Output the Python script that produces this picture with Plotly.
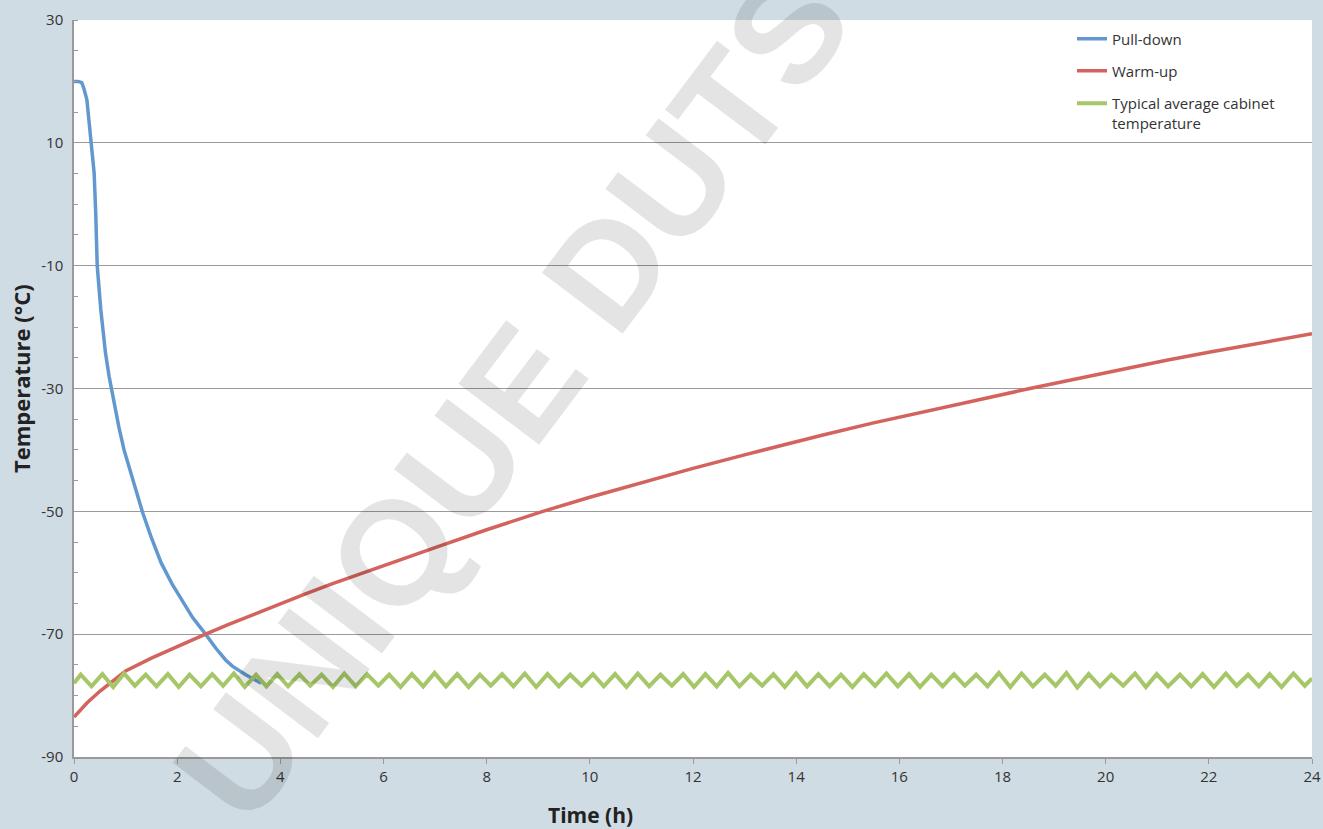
import plotly.graph_objects as go

# ---- data ----
pull_time = [0, 0.08, 0.15, 0.19, 0.25, 0.29, 0.34, 0.39, 0.42, 0.45, 0.52, 0.61, 0.68, 0.78,
             0.87, 0.97, 1.13, 1.33, 1.5, 1.69, 1.9, 2.1, 2.3, 2.55, 2.75, 2.94, 3.07, 3.33,
             3.52, 3.63]
pull_temp = [20.0, 20.0, 19.8, 18.9, 17.0, 13.2, 10.0, 5.1, -1.2, -10.0, -17.2, -24.2, -28.0,
             -32.5, -36.3, -40.0, -44.4, -50.2, -54.3, -58.4, -61.8, -64.6, -67.3, -70.0,
             -72.3, -74.2, -75.2, -76.6, -77.5, -78.0]

warm_time = [0, 0.25, 0.5, 0.75, 1.0, 1.5, 2.0, 2.55, 3.0, 3.5, 4.0, 4.5, 5.0, 5.5, 6.0,
             7.0, 8.0, 9.09, 10.0, 11.0, 12.0, 13.0, 13.68, 14.5, 15.5, 16.39, 17.5, 18.53,
             19.5, 20.5, 21.18, 22.0, 23.0, 24.0]
warm_temp = [-83.5, -81.2, -79.3, -77.6, -76.0, -73.9, -72.0, -70.0, -68.4, -66.7, -65.0,
             -63.4, -61.8, -60.3, -58.8, -55.9, -53.0, -50.0, -47.7, -45.3, -43.0, -40.8,
             -39.3, -37.6, -35.6, -33.9, -31.9, -30.0, -28.3, -26.6, -25.4, -24.1, -22.6,
             -21.1]

cab_start = (0.0, -78.0)
cab_end = (24.0, -77.2)
cab_peak_time = [0.13, 0.55, 0.97, 1.39, 1.82, 2.24, 2.68, 3.10, 3.53, 3.94, 4.37,
                 4.80, 5.24, 5.68, 6.11, 6.55, 6.99, 7.43, 7.87, 8.30, 8.74, 9.18,
                 9.62, 10.06, 10.49, 10.93, 11.37, 11.81, 12.24, 12.68, 13.12, 13.56,
                 14.00, 14.43, 14.87, 15.31, 15.75, 16.19, 16.62, 17.06, 17.49, 17.93,
                 18.37, 18.82, 19.24, 19.67, 20.11, 20.57, 20.99, 21.44, 21.88, 22.33,
                 22.76, 23.18, 23.64]
cab_trough_time = [0.34, 0.76, 1.18, 1.60, 2.03, 2.46, 2.89, 3.31, 3.73, 4.15, 4.58,
                   5.02, 5.46, 5.90, 6.33, 6.77, 7.21, 7.65, 8.08, 8.52, 8.96, 9.40,
                   9.84, 10.27, 10.71, 11.15, 11.59, 12.02, 12.46, 12.90, 13.34, 13.78,
                   14.21, 14.65, 15.09, 15.53, 15.97, 16.40, 16.84, 17.27, 17.71, 18.15,
                   18.59, 19.03, 19.45, 19.89, 20.34, 20.78, 21.21, 21.66, 22.10, 22.54,
                   22.97, 23.41, 23.86]
cab_peak_temp = [-76.6, -76.5, -76.4, -76.6, -76.5, -76.6, -76.5, -76.4, -76.6, -76.5, -76.5,
                 -76.6, -76.4, -76.5, -76.6, -76.5, -76.3, -76.5, -76.6, -76.5, -76.4, -76.5,
                 -76.6, -76.5, -76.5, -76.4, -76.6, -76.5, -76.5, -76.3, -76.6, -76.5, -76.4,
                 -76.5, -76.6, -76.5, -76.4, -76.5, -76.6, -76.5, -76.6, -76.3, -76.4, -76.6,
                 -76.3, -76.5, -76.6, -76.4, -76.5, -76.6, -76.5, -76.4, -76.6, -76.5, -76.4]
cab_trough_temp = [-78.5, -78.6, -78.4, -78.5, -78.6, -78.5, -78.4, -78.6, -78.5, -78.5, -78.4,
                   -78.6, -78.5, -78.4, -78.6, -78.5, -78.5, -78.6, -78.4, -78.5, -78.6, -78.5,
                   -78.4, -78.5, -78.6, -78.5, -78.4, -78.6, -78.5, -78.5, -78.4, -78.6, -78.5,
                   -78.5, -78.6, -78.4, -78.5, -78.6, -78.5, -78.4, -78.5, -78.6, -78.5, -78.4,
                   -78.7, -78.5, -78.4, -78.6, -78.5, -78.5, -78.6, -78.4, -78.5, -78.6, -78.4]

x_ticks = [0, 2, 4, 6, 8, 10, 12, 14, 16, 18, 20, 22, 24]
y_ticks = [30, 10, -10, -30, -50, -70, -90]

# interleave the cabinet peaks and troughs
cab_time = [cab_start[0]]
cab_temp = [cab_start[1]]
for pt, pv, tt, tv in zip(cab_peak_time, cab_peak_temp, cab_trough_time, cab_trough_temp):
    cab_time += [pt, tt]
    cab_temp += [pv, tv]
cab_time.append(cab_end[0])
cab_temp.append(cab_end[1])

W, H = 1323, 829
ML, MR, MT, MB = 74, 11, 20, 72
PW, PH = W - ML - MR, H - MT - MB


def px(xp):
    return (xp - ML) / PW


def py(yp):
    return (H - MB - yp) / PH


FONT = "Open Sans"
TXT = "#333333"
GRID = "#9a9a9a"

fig = go.Figure()
fig.add_trace(go.Scatter(x=pull_time, y=pull_temp, mode="lines", name="Pull-down",
                         line=dict(color="#6198cf", width=3.5), legend="legend"))
fig.add_trace(go.Scatter(x=warm_time, y=warm_temp, mode="lines", name="Warm-up",
                         line=dict(color="#d3635c", width=3.5), legend="legend2"))
fig.add_trace(go.Scatter(x=cab_time, y=cab_temp, mode="lines",
                         name="Typical average cabinet<br>temperature",
                         line=dict(color="#a6c667", width=4), legend="legend3"))

leg_common = dict(font=dict(family=FONT, size=15, color=TXT), bgcolor="rgba(0,0,0,0)",
                  xanchor="left", yanchor="middle", valign="top", borderwidth=0)

fig.update_layout(
    width=W, height=H, autosize=False,
    margin=dict(l=ML, r=MR, t=MT, b=MB, autoexpand=False),
    paper_bgcolor="#cfdce4",
    plot_bgcolor="#ffffff",
    showlegend=True,
    legend=dict(x=px(1072), y=py(39), **leg_common),
    legend2=dict(x=px(1072), y=py(71), **leg_common),
    legend3=dict(x=px(1072), y=py(113), **leg_common),
    xaxis=dict(range=[0, 24], tickvals=x_ticks, ticktext=[str(v) for v in x_ticks],
               ticks="outside", ticklen=5, tickwidth=1.3, tickcolor=GRID,
               showline=True, linecolor=GRID, linewidth=1.5, showgrid=False, zeroline=False,
               automargin=False,
               tickfont=dict(family=FONT, size=15, color=TXT), fixedrange=True),
    yaxis=dict(range=[-90, 30], tickvals=y_ticks, ticktext=[str(v) for v in y_ticks],
               ticks="", showline=True, linecolor=GRID, linewidth=1.5,
               showgrid=True, gridcolor=GRID, gridwidth=1.4, zeroline=False,
               automargin=False,
               minor=dict(dtick=5, tick0=0, ticks="inside", ticklen=4, tickcolor=GRID,
                          tickwidth=1, showgrid=False),
               ticklabelstandoff=6,
               tickfont=dict(family=FONT, size=15, color=TXT), fixedrange=True),
    annotations=[
        dict(text="Time (h)", x=px(590), y=py(815), xref="paper", yref="paper",
             showarrow=False, font=dict(family=FONT, size=21, color="#222222", weight="bold"),
             xanchor="center", yanchor="middle"),
        dict(text="Temperature (°C)", x=px(21), y=py(379), xref="paper", yref="paper",
             showarrow=False, textangle=-90,
             font=dict(family=FONT, size=22, color="#222222", weight="bold"),
             xanchor="center", yanchor="middle"),
        dict(text="UNIQUE DUTS", x=px(512), y=py(396), xref="paper", yref="paper",
             showarrow=False, textangle=-53,
             font=dict(family="Liberation Sans", size=147, color="rgba(0,0,0,0.105)",
                       weight="bold"),
             xanchor="center", yanchor="middle"),
    ],
)

fig.write_html(
    "out.html",
    config={"responsive": False, "displayModeBar": False},
    post_script="document.body.style.margin='0';document.body.style.padding='0';"
                "document.body.style.overflow='hidden';",
)
